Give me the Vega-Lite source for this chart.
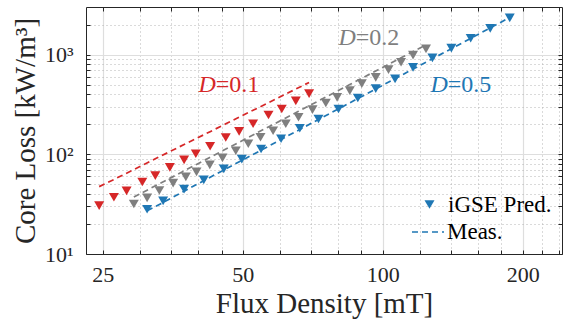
{
  "$schema": "https://vega.github.io/schema/vega-lite/v6.json",
  "width": 476,
  "height": 247,
  "autosize": {"type": "none"},
  "padding": {"left": 86, "top": 7, "right": 5, "bottom": 70},
  "background": "white",
  "config": {
    "view": {"stroke": null},
    "font": "Liberation Serif",
    "axis": {"labelFont": "Liberation Serif", "titleFont": "Liberation Serif", "titleFontWeight": "normal", "labelColor": "#262626", "titleColor": "#262626", "domainColor": "#262626", "tickColor": "#262626"}
  },
  "datasets": {
    "pred": [
      {"series": "D=0.1", "kind": "iGSE Pred.", "B": 24.55, "P": 30.6},
      {"series": "D=0.1", "kind": "iGSE Pred.", "B": 26.41, "P": 37.1},
      {"series": "D=0.1", "kind": "iGSE Pred.", "B": 28.12, "P": 43.0},
      {"series": "D=0.1", "kind": "iGSE Pred.", "B": 30.40, "P": 52.7},
      {"series": "D=0.1", "kind": "iGSE Pred.", "B": 32.42, "P": 61.2},
      {"series": "D=0.1", "kind": "iGSE Pred.", "B": 34.84, "P": 74.0},
      {"series": "D=0.1", "kind": "iGSE Pred.", "B": 37.39, "P": 88.0},
      {"series": "D=0.1", "kind": "iGSE Pred.", "B": 39.62, "P": 101.2},
      {"series": "D=0.1", "kind": "iGSE Pred.", "B": 42.53, "P": 120.3},
      {"series": "D=0.1", "kind": "iGSE Pred.", "B": 45.96, "P": 147.5},
      {"series": "D=0.1", "kind": "iGSE Pred.", "B": 49.10, "P": 169.5},
      {"series": "D=0.1", "kind": "iGSE Pred.", "B": 52.62, "P": 202.6},
      {"series": "D=0.1", "kind": "iGSE Pred.", "B": 56.79, "P": 247.7},
      {"series": "D=0.1", "kind": "iGSE Pred.", "B": 60.65, "P": 284.7},
      {"series": "D=0.1", "kind": "iGSE Pred.", "B": 65.02, "P": 343.4},
      {"series": "D=0.1", "kind": "iGSE Pred.", "B": 69.44, "P": 405.5},
      {"series": "D=0.2", "kind": "iGSE Pred.", "B": 29.15, "P": 31.7},
      {"series": "D=0.2", "kind": "iGSE Pred.", "B": 31.13, "P": 36.5},
      {"series": "D=0.2", "kind": "iGSE Pred.", "B": 33.07, "P": 43.3},
      {"series": "D=0.2", "kind": "iGSE Pred.", "B": 35.41, "P": 51.3},
      {"series": "D=0.2", "kind": "iGSE Pred.", "B": 37.71, "P": 59.4},
      {"series": "D=0.2", "kind": "iGSE Pred.", "B": 39.76, "P": 66.7},
      {"series": "D=0.2", "kind": "iGSE Pred.", "B": 42.46, "P": 78.4},
      {"series": "D=0.2", "kind": "iGSE Pred.", "B": 45.22, "P": 92.2},
      {"series": "D=0.2", "kind": "iGSE Pred.", "B": 48.30, "P": 108.4},
      {"series": "D=0.2", "kind": "iGSE Pred.", "B": 51.38, "P": 127.5},
      {"series": "D=0.2", "kind": "iGSE Pred.", "B": 54.58, "P": 148.2},
      {"series": "D=0.2", "kind": "iGSE Pred.", "B": 58.10, "P": 172.3},
      {"series": "D=0.2", "kind": "iGSE Pred.", "B": 61.86, "P": 202.6},
      {"series": "D=0.2", "kind": "iGSE Pred.", "B": 65.89, "P": 235.4},
      {"series": "D=0.2", "kind": "iGSE Pred.", "B": 70.62, "P": 280.1},
      {"series": "D=0.2", "kind": "iGSE Pred.", "B": 75.43, "P": 327.0},
      {"series": "D=0.2", "kind": "iGSE Pred.", "B": 79.78, "P": 372.3},
      {"series": "D=0.2", "kind": "iGSE Pred.", "B": 84.95, "P": 434.6},
      {"series": "D=0.2", "kind": "iGSE Pred.", "B": 90.15, "P": 510.9},
      {"series": "D=0.2", "kind": "iGSE Pred.", "B": 96.6, "P": 591.4},
      {"series": "D=0.2", "kind": "iGSE Pred.", "B": 102.9, "P": 706.9},
      {"series": "D=0.2", "kind": "iGSE Pred.", "B": 109.5, "P": 837},
      {"series": "D=0.2", "kind": "iGSE Pred.", "B": 116.2, "P": 988.6},
      {"series": "D=0.2", "kind": "iGSE Pred.", "B": 123.9, "P": 1141},
      {"series": "D=0.5", "kind": "iGSE Pred.", "B": 31.13, "P": 28.1},
      {"series": "D=0.5", "kind": "iGSE Pred.", "B": 33.70, "P": 34.1},
      {"series": "D=0.5", "kind": "iGSE Pred.", "B": 37.39, "P": 44.7},
      {"series": "D=0.5", "kind": "iGSE Pred.", "B": 41.22, "P": 55.4},
      {"series": "D=0.5", "kind": "iGSE Pred.", "B": 45.51, "P": 71.5},
      {"series": "D=0.5", "kind": "iGSE Pred.", "B": 49.76, "P": 89.5},
      {"series": "D=0.5", "kind": "iGSE Pred.", "B": 54.74, "P": 113.1},
      {"series": "D=0.5", "kind": "iGSE Pred.", "B": 60.44, "P": 143.1},
      {"series": "D=0.5", "kind": "iGSE Pred.", "B": 66.31, "P": 182.5},
      {"series": "D=0.5", "kind": "iGSE Pred.", "B": 72.74, "P": 225.9},
      {"series": "D=0.5", "kind": "iGSE Pred.", "B": 80.33, "P": 284.7},
      {"series": "D=0.5", "kind": "iGSE Pred.", "B": 88.39, "P": 367.1},
      {"series": "D=0.5", "kind": "iGSE Pred.", "B": 96.6, "P": 455.2},
      {"series": "D=0.5", "kind": "iGSE Pred.", "B": 106.3, "P": 570.0},
      {"series": "D=0.5", "kind": "iGSE Pred.", "B": 116.2, "P": 743.6},
      {"series": "D=0.5", "kind": "iGSE Pred.", "B": 127.9, "P": 926.4},
      {"series": "D=0.5", "kind": "iGSE Pred.", "B": 140.5, "P": 1162},
      {"series": "D=0.5", "kind": "iGSE Pred.", "B": 154.6, "P": 1458},
      {"series": "D=0.5", "kind": "iGSE Pred.", "B": 170.3, "P": 1834},
      {"series": "D=0.5", "kind": "iGSE Pred.", "B": 187.6, "P": 2338}
    ],
    "meas": [
      {"series": "D=0.1", "kind": "Meas.", "B": 24.55, "P": 47.4},
      {"series": "D=0.1", "kind": "Meas.", "B": 26.41, "P": 55.9},
      {"series": "D=0.1", "kind": "Meas.", "B": 28.12, "P": 64.7},
      {"series": "D=0.1", "kind": "Meas.", "B": 30.40, "P": 77.5},
      {"series": "D=0.1", "kind": "Meas.", "B": 32.42, "P": 90.1},
      {"series": "D=0.1", "kind": "Meas.", "B": 34.84, "P": 106.4},
      {"series": "D=0.1", "kind": "Meas.", "B": 37.39, "P": 125.5},
      {"series": "D=0.1", "kind": "Meas.", "B": 39.62, "P": 143.1},
      {"series": "D=0.1", "kind": "Meas.", "B": 42.53, "P": 168.7},
      {"series": "D=0.1", "kind": "Meas.", "B": 45.96, "P": 202.1},
      {"series": "D=0.1", "kind": "Meas.", "B": 49.10, "P": 235.4},
      {"series": "D=0.1", "kind": "Meas.", "B": 52.62, "P": 276.3},
      {"series": "D=0.1", "kind": "Meas.", "B": 56.79, "P": 328.5},
      {"series": "D=0.1", "kind": "Meas.", "B": 60.65, "P": 383.7},
      {"series": "D=0.1", "kind": "Meas.", "B": 65.02, "P": 451.0},
      {"series": "D=0.1", "kind": "Meas.", "B": 69.44, "P": 525.5},
      {"series": "D=0.2", "kind": "Meas.", "B": 29.15, "P": 37.2},
      {"series": "D=0.2", "kind": "Meas.", "B": 31.13, "P": 43.7},
      {"series": "D=0.2", "kind": "Meas.", "B": 33.07, "P": 50.7},
      {"series": "D=0.2", "kind": "Meas.", "B": 35.41, "P": 59.7},
      {"series": "D=0.2", "kind": "Meas.", "B": 37.71, "P": 69.6},
      {"series": "D=0.2", "kind": "Meas.", "B": 39.76, "P": 79.1},
      {"series": "D=0.2", "kind": "Meas.", "B": 42.46, "P": 92.9},
      {"series": "D=0.2", "kind": "Meas.", "B": 45.22, "P": 108.2},
      {"series": "D=0.2", "kind": "Meas.", "B": 48.30, "P": 126.9},
      {"series": "D=0.2", "kind": "Meas.", "B": 51.38, "P": 147.5},
      {"series": "D=0.2", "kind": "Meas.", "B": 54.58, "P": 171.1},
      {"series": "D=0.2", "kind": "Meas.", "B": 58.10, "P": 198.9},
      {"series": "D=0.2", "kind": "Meas.", "B": 61.86, "P": 231.6},
      {"series": "D=0.2", "kind": "Meas.", "B": 65.89, "P": 269.9},
      {"series": "D=0.2", "kind": "Meas.", "B": 70.62, "P": 319.5},
      {"series": "D=0.2", "kind": "Meas.", "B": 75.43, "P": 374.9},
      {"series": "D=0.2", "kind": "Meas.", "B": 79.78, "P": 429.7},
      {"series": "D=0.2", "kind": "Meas.", "B": 84.95, "P": 500.6},
      {"series": "D=0.2", "kind": "Meas.", "B": 90.15, "P": 579.2},
      {"series": "D=0.2", "kind": "Meas.", "B": 96.6, "P": 684.4},
      {"series": "D=0.2", "kind": "Meas.", "B": 102.9, "P": 797.1},
      {"series": "D=0.2", "kind": "Meas.", "B": 109.5, "P": 928.6},
      {"series": "D=0.2", "kind": "Meas.", "B": 116.2, "P": 1072},
      {"series": "D=0.2", "kind": "Meas.", "B": 123.9, "P": 1254},
      {"series": "D=0.5", "kind": "Meas.", "B": 31.13, "P": 27.1},
      {"series": "D=0.5", "kind": "Meas.", "B": 33.70, "P": 32.9},
      {"series": "D=0.5", "kind": "Meas.", "B": 37.39, "P": 42.7},
      {"series": "D=0.5", "kind": "Meas.", "B": 41.22, "P": 54.4},
      {"series": "D=0.5", "kind": "Meas.", "B": 45.51, "P": 69.6},
      {"series": "D=0.5", "kind": "Meas.", "B": 49.76, "P": 86.8},
      {"series": "D=0.5", "kind": "Meas.", "B": 54.74, "P": 109.9},
      {"series": "D=0.5", "kind": "Meas.", "B": 60.44, "P": 140.8},
      {"series": "D=0.5", "kind": "Meas.", "B": 66.31, "P": 177.1},
      {"series": "D=0.5", "kind": "Meas.", "B": 72.74, "P": 223.3},
      {"series": "D=0.5", "kind": "Meas.", "B": 80.33, "P": 285.3},
      {"series": "D=0.5", "kind": "Meas.", "B": 88.39, "P": 362.2},
      {"series": "D=0.5", "kind": "Meas.", "B": 96.6, "P": 452.1},
      {"series": "D=0.5", "kind": "Meas.", "B": 106.3, "P": 572.6},
      {"series": "D=0.5", "kind": "Meas.", "B": 116.2, "P": 715.0},
      {"series": "D=0.5", "kind": "Meas.", "B": 127.9, "P": 907.5},
      {"series": "D=0.5", "kind": "Meas.", "B": 140.5, "P": 1146},
      {"series": "D=0.5", "kind": "Meas.", "B": 154.6, "P": 1455},
      {"series": "D=0.5", "kind": "Meas.", "B": 170.3, "P": 1851},
      {"series": "D=0.5", "kind": "Meas.", "B": 187.6, "P": 2354}
    ],
    "labels": [
      {"series": "D=0.1", "B": 43.75, "P": 420, "t": "=0.1"},
      {"series": "D=0.2", "B": 87.5, "P": 1261, "t": "=0.2"},
      {"series": "D=0.5", "B": 138.0, "P": 424.6, "t": "=0.5"}
    ]
  },
  "layer": [
    {
      "data": {"name": "pred"},
      "mark": {"type": "point", "filled": true, "opacity": 1, "size": 100, "strokeWidth": 0},
      "encoding": {
        "x": {"field": "B", "type": "quantitative", "scale": {"type": "log", "domain": [23, 243], "nice": false},
          "axis": {"orient": "bottom", "values": [30, 35, 40, 45, 60, 70, 80, 90, 120, 140, 160, 180, 220, 240], "grid": true, "gridDash": [1, 3], "gridColor": "#b5b5b5", "gridWidth": 1, "ticks": true, "tickSize": -4, "tickWidth": 1, "labels": false, "domain": false, "title": null}},
        "y": {"field": "P", "type": "quantitative", "scale": {"type": "log", "domain": [10, 3000], "nice": false},
          "axis": {"orient": "left", "values": [20, 30, 40, 50, 60, 70, 80, 90, 200, 300, 400, 500, 600, 700, 800, 900, 2000], "grid": true, "gridDash": [1, 3], "gridColor": "#b5b5b5", "gridWidth": 1, "ticks": true, "tickSize": -4, "tickWidth": 1, "labels": false, "domain": false, "title": null}},
        "color": {"field": "series", "type": "nominal", "scale": {"domain": ["D=0.1", "D=0.2", "D=0.5"], "range": ["#d62728", "#7f7f7f", "#1f77b4"]}, "legend": null},
        "shape": {"field": "kind", "type": "nominal", "scale": {"domain": ["iGSE Pred."], "range": ["triangle-down"]},
          "legend": {"orient": "none", "legendX": 332, "legendY": 186, "title": null, "padding": 0, "labelFont": "Liberation Serif", "labelFontSize": 23, "labelColor": "#000000", "labelOffset": 7, "symbolSize": 100, "symbolFillColor": "#1f77b4", "symbolStrokeColor": "#1f77b4", "symbolStrokeWidth": 0, "symbolOpacity": 1,
            "encode": {"symbols": {"update": {"fill": {"value": "#1f77b4"}, "opacity": {"value": 1}}}}}}
      }
    },
    {
      "data": {"name": "meas"},
      "mark": {"type": "line", "strokeWidth": 1.7},
      "encoding": {
        "x": {"field": "B", "type": "quantitative", "scale": {"type": "log", "domain": [23, 243], "nice": false},
          "axis": {"orient": "bottom", "values": [25, 50, 100, 200], "grid": true, "gridColor": "#dedede", "gridWidth": 1.2, "ticks": true, "tickSize": -4, "tickWidth": 1, "labels": true, "labelFontSize": 22, "labelPadding": 14, "labelFlush": false, "domain": true, "domainWidth": 1, "title": "Flux Density [mT]", "titleFontSize": 29, "titlePadding": 4}},
        "y": {"field": "P", "type": "quantitative", "scale": {"type": "log", "domain": [10, 3000], "nice": false},
          "axis": {"orient": "left", "values": [10, 100, 1000], "grid": true, "gridColor": "#dedede", "gridWidth": 1.2, "ticks": true, "tickSize": -4, "tickWidth": 1, "labels": true, "labelFontSize": 22, "labelPadding": 17, "labelFlush": false, "labelExpr": "datum.value == 10 ? '10¹' : datum.value == 100 ? '10²' : '10³'", "domain": true, "domainWidth": 1, "title": "Core Loss [kW/m³]", "titleFontSize": 29, "titlePadding": 4}},
        "color": {"field": "series", "type": "nominal", "scale": {"domain": ["D=0.1", "D=0.2", "D=0.5"], "range": ["#d62728", "#7f7f7f", "#1f77b4"]}, "legend": null},
        "strokeDash": {"field": "kind", "type": "nominal", "scale": {"domain": ["Meas."], "range": [[6, 4]]},
          "legend": {"orient": "none", "legendX": 325, "legendY": 208, "title": null, "padding": 0, "labelFont": "Liberation Serif", "labelFontSize": 23, "labelColor": "#000000", "labelOffset": 2, "symbolType": "stroke", "symbolSize": 1024, "symbolStrokeColor": "#1f77b4", "symbolStrokeWidth": 1.7,
            "encode": {"symbols": {"update": {"stroke": {"value": "#1f77b4"}, "strokeWidth": {"value": 1.7}}}}}}
      }
    },
    {
      "data": {"name": "labels"},
      "mark": {"type": "text", "align": "right", "baseline": "alphabetic", "font": "Liberation Serif", "fontSize": 24, "fontStyle": "italic"},
      "encoding": {
        "x": {"field": "B", "type": "quantitative", "scale": {"type": "log", "domain": [23, 243], "nice": false},
          "axis": {"orient": "top", "values": [25, 30, 35, 40, 45, 50, 60, 70, 80, 90, 100, 120, 140, 160, 180, 200, 220, 240], "grid": false, "ticks": true, "tickSize": -4, "tickWidth": 1, "labels": false, "domain": true, "domainWidth": 1, "title": null}},
        "y": {"field": "P", "type": "quantitative", "scale": {"type": "log", "domain": [10, 3000], "nice": false},
          "axis": {"orient": "right", "values": [10, 20, 30, 40, 50, 60, 70, 80, 90, 100, 200, 300, 400, 500, 600, 700, 800, 900, 1000, 2000], "grid": false, "ticks": true, "tickSize": -4, "tickWidth": 1, "labels": false, "domain": true, "domainWidth": 1, "title": null}},
        "color": {"field": "series", "type": "nominal", "scale": {"domain": ["D=0.1", "D=0.2", "D=0.5"], "range": ["#d62728", "#7f7f7f", "#1f77b4"]}, "legend": null},
        "text": {"value": "D"}
      }
    },
    {
      "data": {"name": "labels"},
      "mark": {"type": "text", "align": "left", "baseline": "alphabetic", "font": "Liberation Serif", "fontSize": 24},
      "encoding": {
        "x": {"field": "B", "type": "quantitative", "scale": {"type": "log", "domain": [23, 243], "nice": false}, "axis": null},
        "y": {"field": "P", "type": "quantitative", "scale": {"type": "log", "domain": [10, 3000], "nice": false}, "axis": null},
        "color": {"field": "series", "type": "nominal", "scale": {"domain": ["D=0.1", "D=0.2", "D=0.5"], "range": ["#d62728", "#7f7f7f", "#1f77b4"]}, "legend": null},
        "text": {"field": "t"}
      }
    }
  ],
  "resolve": {"axis": {"x": "independent", "y": "independent"}}
}
